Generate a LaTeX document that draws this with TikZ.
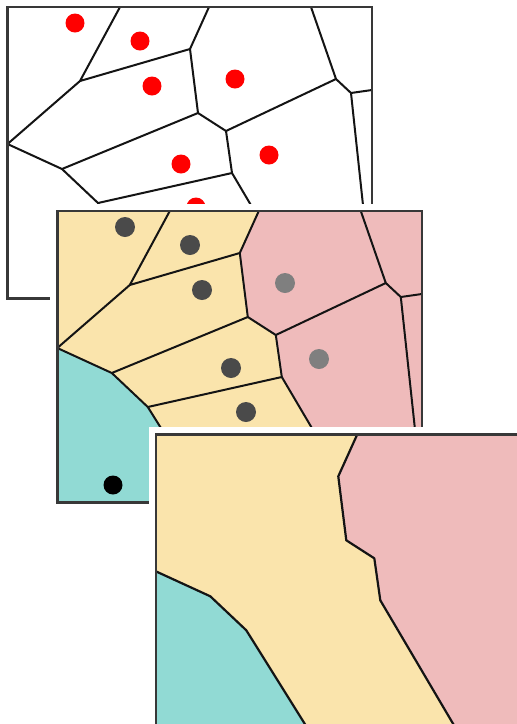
\documentclass[tikz,border=0pt]{standalone}
\usetikzlibrary{calc}
\definecolor{ylw}{HTML}{FAE4AC}
\definecolor{pnk}{HTML}{EFBBBB}
\definecolor{tea}{HTML}{91DAD4}
\definecolor{frm}{HTML}{383838}
\definecolor{dotdark}{HTML}{4A4A4A}
\definecolor{dotgray}{HTML}{7F7F7F}
\newcommand\vorpts{%
  \coordinate (TL) at (7.5,7);
  \coordinate (BR) at (372,298.5);
  \coordinate (A) at (120,7);
  \coordinate (B) at (80,81);
  \coordinate (C) at (190,49);
  \coordinate (Ct) at (209,7);
  \coordinate (D) at (198,113);
  \coordinate (E) at (7.5,144);
  \coordinate (F) at (62,169);
  \coordinate (G) at (226,131);
  \coordinate (H) at (336,79);
  \coordinate (Ht) at (311,7);
  \coordinate (K) at (351,93);
  \coordinate (Kr) at (372,90);
  \coordinate (Kb) at (372,289);
  \coordinate (I) at (232,173);
  \coordinate (J) at (98,203);
  \coordinate (Tb) at (157.7,298.5);
  \coordinate (Pb) at (306,298.5);
  \coordinate (BL) at (7.5,298.5);
  \coordinate (TR) at (372,7);
}
\newcommand\voredges{%
  \draw[edge] (A) -- (B) -- (C) -- (Ct);
  \draw[edge] (C) -- (D) -- (G) -- (H) -- (Ht);
  \draw[edge] (H) -- (K) -- (Kr);
  \draw[edge] (K) -- (Kb);
  \draw[edge] (B) -- (E) -- (F) -- (D);
  \draw[edge] (F) -- (J) -- (I) -- (G);
  \draw[edge] (I) -- (Pb);
  \draw[edge] (J) -- (Tb);
}
\begin{document}
\begin{tikzpicture}[x=1pt,y=-1pt,
  frame/.style={draw=frm,line width=2.4pt},
  edge/.style={draw=black!92,line width=2pt,line join=round,line cap=round},
  seam/.style={draw=black!92,line width=2.2pt,line join=round}]
\useasboundingbox (0,0) rectangle (517,724);
\clip (0,0) rectangle (517,724);
\fill[white] (0,0) rectangle (517,724);

% ---------- panel 1 ----------
\begin{scope}
  \vorpts
  \fill[white] (TL) rectangle (BR);
  \begin{scope}
    \clip (TL) rectangle (BR);
    \voredges
  \end{scope}
  \foreach \p in {(75,23),(140,41),(152,86),(235,79),(181,164),(196,207),(269,155)}
    \fill[red] \p circle (9.5);
  \draw[frame] (TL) rectangle (BR);
\end{scope}

% ---------- panel 2 ----------
\begin{scope}[shift={(49.8,204)}]
  \vorpts
  \fill[white] ($(TL)+(-7,-7)$) rectangle ($(BR)+(7,7)$);
  \begin{scope}
    \clip (TL) rectangle (BR);
    \fill[ylw] (TL) rectangle (BR);
    \fill[tea] (E) -- (F) -- (J) -- (Tb) -- (BL) -- cycle;
    \fill[pnk] (Ct) -- (C) -- (D) -- (G) -- (I) -- (Pb) -- (BR) -- (TR) -- cycle;
    \voredges
  \end{scope}
  \foreach \p in {(75.2,23),(140.2,41),(152.2,86),(181.2,164),(196.2,208)}
    \fill[dotdark] \p circle (10);
  \foreach \p in {(235.2,79),(269.2,155)}
    \fill[dotgray] \p circle (10);
  \fill[black] (63.2,281) circle (9.5);
  \draw[frame] (TL) rectangle (BR);
\end{scope}

% ---------- panel 3 ----------
\begin{scope}[shift={(148.3,427.3)}]
  \vorpts
  \fill[white] ($(TL)+(-7,-7)$) rectangle ($(BR)+(7,7)$);
  \begin{scope}
    \clip (TL) rectangle (BR);
    \fill[ylw] (TL) rectangle (BR);
    \fill[tea] (E) -- (F) -- (J) -- (Tb) -- (BL) -- cycle;
    \fill[pnk] (Ct) -- (C) -- (D) -- (G) -- (I) -- (Pb) -- (BR) -- (TR) -- cycle;
    \draw[seam] (E) -- (F) -- (J) -- (Tb);
    \draw[seam] (Ct) -- (C) -- (D) -- (G) -- (I) -- (Pb);
  \end{scope}
  \draw[frame] (TL) rectangle (BR);
\end{scope}
\end{tikzpicture}
\end{document}
